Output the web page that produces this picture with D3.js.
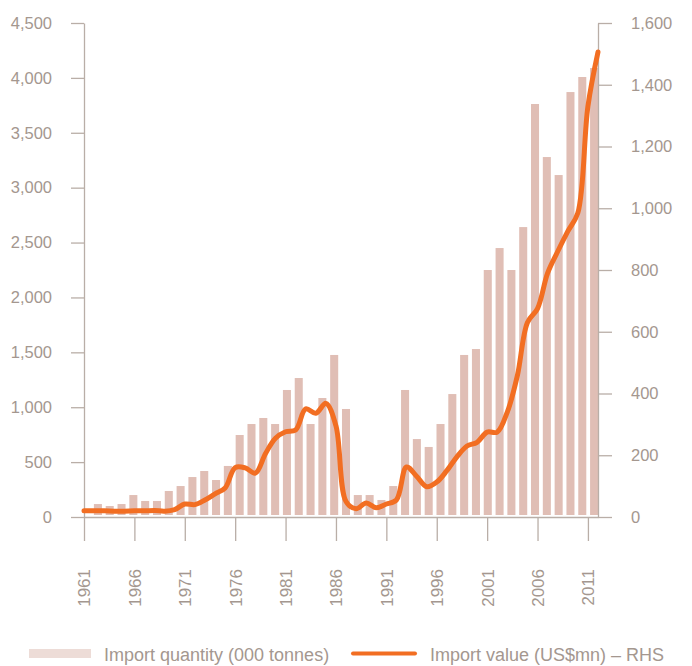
<!DOCTYPE html>
<html>
<head>
<meta charset="utf-8">
<script src="https://cdn.jsdelivr.net/npm/d3@7"></script>
<style>
  body { margin: 0; background: #fff; }
  svg text { font-family: "Liberation Sans", Arial, sans-serif; fill: #a4978f; }
  .axis path, .axis line { stroke: #b9aea7; stroke-width: 1.3; }
</style>
</head>
<body>
<div class="chart"></div>
<script>
// import quantity bars (000 tonnes) - 43 bars across the plot
var quantity = [118, 100, 118, 200, 146, 146, 237, 282, 364, 419, 337, 465, 747,
  847, 902, 847, 1157, 1266, 847, 1084, 1476, 984, 200, 200, 155, 282, 1157,
  710, 638, 847, 1120, 1476, 1530, 2250, 2450, 2250, 2641, 3762, 3279, 3115,
  3871, 4008, 4090];

// import value (US$mn), one per year 1961-2012
var years = d3.range(1961, 2013);
var importValue = [20, 20, 20, 19, 19, 20, 20, 21, 19, 24,
  42, 40, 55, 75, 94, 160, 159, 142, 205, 255,
  276, 282, 350, 336, 368, 295, 50, 27, 45, 30,
  42, 55, 162, 132, 98, 113, 150, 195, 230, 242,
  275, 275, 340, 458, 630, 675, 790, 860, 925, 985,
  1330, 1506];

var yearTicks = [1961, 1966, 1971, 1976, 1981, 1986, 1991, 1996, 2001, 2006, 2011];
var leftTicks = [0, 500, 1000, 1500, 2000, 2500, 3000, 3500, 4000, 4500];
var rightTicks = [0, 200, 400, 600, 800, 1000, 1200, 1400, 1600];

var W = 692, H = 666;
var x0 = 84, x1 = 598, yTop = 23, yBase = 517;

var svg = d3.select(".chart").append("svg").attr("width", W).attr("height", H);

var x = d3.scaleLinear().domain([1961, 2012]).range([x0, x1]);
var xb = d3.scaleBand().domain(d3.range(quantity.length)).range([92, 600])
  .paddingInner(0.32).paddingOuter(0.16);
var yL = d3.scaleLinear().domain([0, 4500]).range([yBase, yTop]);
var yR = d3.scaleLinear().domain([0, 1600]).range([yBase, yTop]);

// bars
svg.append("g").selectAll("rect").data(quantity).enter().append("rect")
  .attr("x", function(d, i) { return xb(i); })
  .attr("width", xb.bandwidth())
  .attr("y", function(d) { return yL(d); })
  .attr("height", function(d) { return yL(0) - yL(d) - 2; })
  .style("fill", "#e0beb5");

// axes
var fmt = d3.format(",");
svg.append("g").attr("class", "axis").attr("transform", "translate(" + x0 + ",0)")
  .call(d3.axisLeft(yL).tickValues(leftTicks).tickFormat(fmt).tickSize(13).tickSizeOuter(0).tickPadding(19))
  .selectAll("text").style("font-size", "16.5px");

svg.append("g").attr("class", "axis").attr("transform", "translate(" + x1 + ",0)")
  .call(d3.axisRight(yR).tickValues(rightTicks).tickFormat(fmt).tickSize(14).tickSizeOuter(0).tickPadding(19))
  .selectAll("text").style("font-size", "16.5px");

var xa = svg.append("g").attr("class", "axis").attr("transform", "translate(0," + yBase + ")")
  .call(d3.axisBottom(x).tickValues(yearTicks).tickFormat(d3.format("d")).tickSize(24).tickSizeOuter(0));
xa.selectAll("text")
  .style("font-size", "17px")
  .style("text-anchor", "end")
  .attr("transform", "rotate(-90)")
  .attr("x", -52).attr("y", 0).attr("dy", "0.35em");

// line
var line = d3.line()
  .x(function(d, i) { return x(years[i]); })
  .y(function(d) { return yR(d); })
  .curve(d3.curveCatmullRom.alpha(0.5));

svg.append("path").datum(importValue)
  .attr("d", line)
  .style("fill", "none").style("stroke", "#f26e22")
  .style("stroke-width", 5).style("stroke-linecap", "round").style("stroke-linejoin", "round");

// legend
var lg = svg.append("g");
lg.append("rect").attr("x", 29).attr("y", 649).attr("width", 62).attr("height", 9).style("fill", "#eddcd7");
lg.append("text").attr("x", 104).attr("y", 661).style("font-size", "18px").text("Import quantity (000 tonnes)");
lg.append("line").attr("x1", 353).attr("x2", 415).attr("y1", 653.5).attr("y2", 653.5)
  .style("stroke", "#f26e22").style("stroke-width", 4).style("stroke-linecap", "round");
lg.append("text").attr("x", 430).attr("y", 661).style("font-size", "18px").text("Import value (US$mn) \u2013 RHS");
</script>
</body>
</html>
